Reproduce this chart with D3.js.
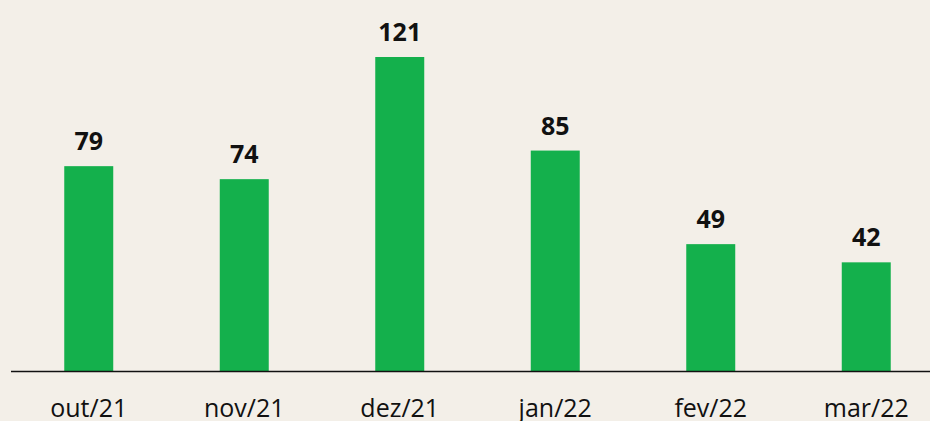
<!DOCTYPE html>
<html>
<head>
<meta charset="utf-8">
<script src="https://cdn.jsdelivr.net/npm/d3@7"></script>
<style>
  body { margin: 0; background: #f3efe8; }
  svg { display: block; }
  .value { font-family: 'Open Sans', sans-serif; font-weight: bold; font-size: 25px; fill: #111; }
  .tick text { font-family: 'Open Sans', sans-serif; font-size: 25px; fill: #111; }
</style>
</head>
<body>
<svg width="930" height="421"></svg>
<script>
var svg = d3.select('svg');

// Data
var months = ['out/21', 'nov/21', 'dez/21', 'jan/22', 'fev/22', 'mar/22'];
var counts = [79, 74, 121, 85, 49, 42];

var data = months.map(function(m, i) { return {month: m, value: counts[i]}; });

svg.append('rect')
    .attr('width', 930)
    .attr('height', 421)
    .attr('fill', '#f3efe8');

var baseY = 371.5;

var xScale = d3.scaleBand()
    .domain(months)
    .range([11, 944])
    .paddingInner(0.685)
    .paddingOuter(0.3425);

var yScale = d3.scaleLinear()
    .domain([0, 121])
    .range([baseY, 57]);

// bars
svg.selectAll('.bar')
    .data(data)
    .enter()
    .append('rect')
    .attr('class', 'bar')
    .attr('x', function(d) { return xScale(d.month); })
    .attr('y', function(d) { return yScale(d.value); })
    .attr('width', xScale.bandwidth())
    .attr('height', function(d) { return baseY - yScale(d.value); })
    .attr('fill', '#14b04c');

// value labels
svg.selectAll('.value')
    .data(data)
    .enter()
    .append('text')
    .attr('class', 'value')
    .attr('x', function(d) { return xScale(d.month) + xScale.bandwidth() / 2; })
    .attr('y', function(d) { return yScale(d.value) - 16; })
    .attr('text-anchor', 'middle')
    .text(function(d) { return d.value; });

// x axis
var xAxis = d3.axisBottom(xScale).tickSize(0).tickPadding(28);
var axisG = svg.append('g')
    .attr('transform', 'translate(0,' + baseY + ')')
    .call(xAxis);
axisG.select('.domain').remove();
axisG.append('line')
    .attr('x1', 11)
    .attr('x2', 930)
    .attr('stroke', '#111')
    .attr('stroke-width', 1.5);
</script>
</body>
</html>
